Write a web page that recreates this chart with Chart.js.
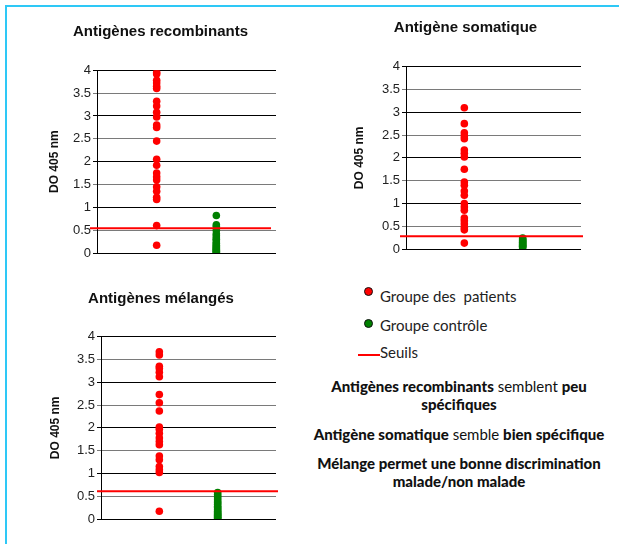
<!DOCTYPE html>
<html><head><meta charset="utf-8">
<script src="https://cdn.jsdelivr.net/npm/chart.js@4.4.0/dist/chart.umd.min.js"></script>
<style>
html,body{margin:0;padding:0;background:#fff;width:619px;height:544px;overflow:hidden;position:relative;}
#frame{position:absolute;left:5px;top:5px;width:640px;height:560px;border-top:2px solid #2ec8f6;border-left:2px solid #2ec8f6;}
canvas{position:absolute;}
.leg{position:absolute;font-family:Lato,"Open Sans",sans-serif;font-size:15px;color:#222;white-space:nowrap;line-height:18px;}
.dot{position:absolute;width:7px;height:7px;border-radius:50%;border:1px solid #111;}
.ln{position:absolute;height:2px;background:#ff0000;}
.txt{position:absolute;left:300px;width:318px;text-align:center;font-family:Lato,"Open Sans",sans-serif;font-size:15px;color:#111;white-space:nowrap;line-height:18.3px;}
.txt b{font-weight:900;}
</style></head>
<body>
<div id="frame"></div>
<canvas id="c1" width="239" height="263" style="left:45px;top:0px"></canvas>
<canvas id="c2" width="239" height="259" style="left:350px;top:0px"></canvas>
<canvas id="c3" width="238" height="259" style="left:46px;top:270px"></canvas>

<div class="dot" style="left:364px;top:287px;background:#ff0000"></div>
<div class="leg" style="left:380px;top:287px">Groupe des&nbsp; patients</div>
<div class="dot" style="left:364px;top:319px;background:#008000"></div>
<div class="leg" style="left:380px;top:316px">Groupe contrôle</div>
<div class="ln" style="left:358px;top:354px;width:22px"></div>
<div class="leg" style="left:380px;top:343px">Seuils</div>

<div class="txt" style="top:377px"><b>Antigènes recombinants</b> semblent <b>peu</b><br><b>spécifiques</b></div>
<div class="txt" style="top:425px"><b>Antigène somatique</b> semble <b>bien spécifique</b></div>
<div class="txt" style="top:454px"><b>Mélange permet une bonne discrimination<br>malade/non malade</b></div>

<script>
// ---- data ----
const categories = ['Groupe des  patients', 'Groupe contrôle'];
const yAxisTitle = 'DO 405 nm';

const recombTitle = 'Antigènes recombinants';
const recombPatients = [3.95, 3.92, 3.78, 3.72, 3.65, 3.6, 3.32, 3.22, 3.08, 2.98, 2.8, 2.75, 2.45, 2.05, 1.92, 1.75, 1.67, 1.6, 1.45, 1.35, 1.22, 1.17, 0.6, 0.17];
const recombControls = [0.82, 0.62, 0.58, 0.5, 0.42, 0.38, 0.33, 0.3, 0.26, 0.22, 0.2, 0.17, 0.14, 0.12, 0.1, 0.08, 0.06, 0.04, 0.02, 0.01];
const recombThreshold = 0.54;

const somaTitle = 'Antigène somatique';
const somaPatients = [3.1, 2.75, 2.55, 2.48, 2.42, 2.17, 2.1, 2.02, 1.75, 1.47, 1.4, 1.27, 1.18, 1.0, 0.92, 0.85, 0.68, 0.62, 0.55, 0.47, 0.42, 0.13];
const somaControls = [0.24, 0.22, 0.2, 0.18, 0.16, 0.14, 0.12, 0.1, 0.08, 0.06, 0.05, 0.03];
const somaThreshold = 0.28;

const mixTitle = 'Antigènes mélangés';
const mixPatients = [3.67, 3.6, 3.35, 3.3, 3.22, 3.12, 2.73, 2.55, 2.37, 2.02, 1.97, 1.88, 1.78, 1.7, 1.63, 1.38, 1.3, 1.15, 1.08, 1.02, 0.17];
const mixControls = [0.58, 0.54, 0.5, 0.46, 0.42, 0.38, 0.35, 0.32, 0.28, 0.25, 0.22, 0.2, 0.17, 0.14, 0.12, 0.1, 0.08, 0.06, 0.04, 0.02, 0.01];
const mixThreshold = 0.61;

const yTickLabels = ['0', '0.5', '1', '1.5', '2', '2.5', '3', '3.5', '4'];
const yMin = 0, yMax = 4, yStep = 0.5;

// ---- drawing ----
const seuilPlugin = {
  id: 'seuil',
  afterDatasetsDraw(chart, args, o) {
    const ctx = chart.ctx;
    const y = chart.scales.y.getPixelForValue(o.value);
    const a = chart.chartArea;
    ctx.save();
    ctx.strokeStyle = '#ff0000';
    ctx.lineWidth = 2;
    ctx.beginPath();
    ctx.moveTo(a.left - o.extL, y);
    ctx.lineTo(a.right + o.extR, y);
    ctx.stroke();
    ctx.restore();
  }
};

const FONT = '"Liberation Sans", Arial, sans-serif';

function makeChart(id, title, patients, controls, threshold, st) {
  const toPts = (arr, idx) => arr.map(v => ({x: idx + 1, y: v}));
  return new Chart(document.getElementById(id), {
    type: 'scatter',
    data: {
      datasets: [
        {label: categories[0], data: toPts(patients, 0), backgroundColor: '#ff0000', borderWidth: 0, pointRadius: 3.8},
        {label: categories[1], data: toPts(controls, 1), backgroundColor: '#008000', borderWidth: 0, pointRadius: 3.8}
      ]
    },
    options: {
      responsive: false, animation: false, devicePixelRatio: 1,
      layout: {padding: {left: 0, right: 8, top: 0, bottom: 10}},
      plugins: {
        legend: {display: false}, tooltip: {enabled: false},
        title: {display: true, text: title, color: '#111',
          font: {family: FONT, size: 15, weight: 'bold'},
          padding: {top: st.tTop, bottom: st.tBot}},
        seuil: {value: threshold, extL: st.extL, extR: st.extR}
      },
      scales: {
        x: {type: 'linear', min: 0, max: categories.length + 1, display: false},
        y: {
          min: yMin, max: yMax,
          afterFit: s => { s.width = st.yW; },
          ticks: {stepSize: yStep, color: '#222', padding: 2,
            callback: (v, i) => yTickLabels[Math.round((v - yMin) / yStep)],
            font: {family: FONT, size: 13}},
          grid: {color: c => (c.tick && c.tick.value % 1 === 0) ? '#000' : '#7a7a7a', tickLength: 4, lineWidth: 1},
          border: {display: true, color: '#000', width: 1},
          title: {display: true, text: yAxisTitle, color: '#111', padding: {top: 2, bottom: 0},
            font: {family: FONT, size: 12, weight: 'bold'}}
        }
      }
    },
    plugins: [seuilPlugin]
  });
}

// title padding: (title centre y - canvas top - 9) and (plot top - title centre - 9)
makeChart('c1', recombTitle, recombPatients, recombControls, recombThreshold, {yW: 52, tTop: 22.7, tBot: 29.6, extL: 7, extR: -5});
makeChart('c2', somaTitle, somaPatients, somaControls, somaThreshold, {yW: 56, tTop: 18.5, tBot: 30.2, extL: 6, extR: 2});
makeChart('c3', mixTitle, mixPatients, mixControls, mixThreshold, {yW: 55, tTop: 19.7, tBot: 29.0, extL: 4, extR: 2});
</script>
</body></html>
